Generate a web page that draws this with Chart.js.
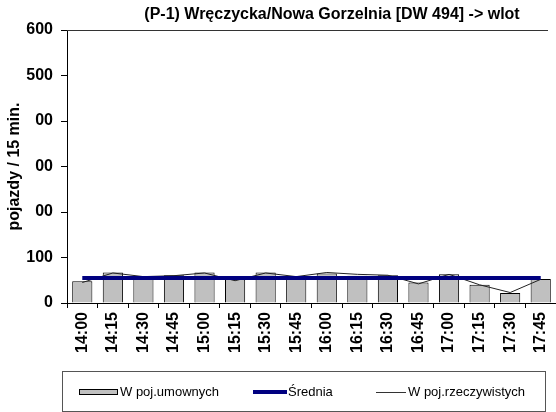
<!DOCTYPE html>
<html>
<head>
<meta charset="utf-8">
<script src="https://cdn.jsdelivr.net/npm/chart.js@4"></script>
<style>
  html, body { margin: 0; padding: 0; background: #fff; }
  #wrap { width: 556px; height: 412px; }
</style>
</head>
<body>
<div id="wrap"><canvas id="myChart" width="556" height="412"></canvas></div>
<script>
var labels = ['14:00', '14:15', '14:30', '14:45', '15:00', '15:15', '15:30', '15:45',
  '16:00', '16:15', '16:30', '16:45', '17:00', '17:15', '17:30', '17:45'];
var umowne = [48, 67, 54, 61, 67, 52, 67, 56, 65, 60, 61, 45, 63, 40, 22, 53];
var rzeczywiste = [45, 66, 58, 60, 66, 49, 66, 58, 67, 63, 61, 42, 63, 40, 23, 52];
var srednia = [55, 55, 55, 55, 55, 55, 55, 55, 55, 55, 55, 55, 55, 55, 55, 55];
var yTickLabels = ['0', '100', '00', '00', '00', '500', '600'];
var seriesNames = ['W poj.umownych', 'Średnia', 'W poj.rzeczywistych'];
var titleText = '(P-1) Wręczycka/Nowa Gorzelnia [DW 494] -> wlot';

var FONT = '"Liberation Sans", Arial, sans-serif';

// title, top frame line and boxed legend like the excel original
var extras = {
  id: 'extras',
  afterDraw: function (chart) {
    var ctx = chart.ctx;
    var a = chart.chartArea;
    ctx.save();
    ctx.strokeStyle = '#333';
    ctx.lineWidth = 1;
    ctx.beginPath();
    ctx.moveTo(a.left, a.top + 0.5);
    ctx.lineTo(548, a.top + 0.5);
    ctx.stroke();

    ctx.fillStyle = '#000';
    ctx.font = 'bold 16px ' + FONT;
    ctx.textAlign = 'center';
    ctx.textBaseline = 'middle';
    ctx.fillText(titleText, 332, 15);

    // legend
    ctx.strokeStyle = '#555';
    ctx.strokeRect(62.5, 371.5, 483, 40);
    var cy = 392;
    ctx.fillStyle = '#C0C0C0';
    ctx.fillRect(79, 389, 39, 6);
    ctx.strokeStyle = '#000';
    ctx.strokeRect(79.5, 389.5, 38, 5);
    ctx.strokeStyle = '#000080';
    ctx.lineWidth = 4;
    ctx.beginPath();
    ctx.moveTo(253, cy);
    ctx.lineTo(287, cy);
    ctx.stroke();
    ctx.strokeStyle = '#333';
    ctx.lineWidth = 1;
    ctx.beginPath();
    ctx.moveTo(376, cy + 0.5);
    ctx.lineTo(406, cy + 0.5);
    ctx.stroke();
    ctx.fillStyle = '#000';
    ctx.font = '13px ' + FONT;
    ctx.textAlign = 'left';
    ctx.fillText(seriesNames[0], 120, cy);
    ctx.fillText(seriesNames[1], 288, cy);
    ctx.fillText(seriesNames[2], 408, cy);
    ctx.restore();
  }
};

new Chart('myChart', {
  type: 'bar',
  data: {
    labels: labels,
    datasets: [
      {
        label: seriesNames[1],
        type: 'line',
        data: srednia,
        borderColor: '#000080',
        borderWidth: 4,
        pointRadius: 0,
        tension: 0,
        order: 1,
      },
      {
        label: seriesNames[2],
        type: 'line',
        data: rzeczywiste,
        borderColor: '#222',
        borderWidth: 1,
        pointRadius: 0,
        tension: 0,
        order: 2,
      },
      {
        label: seriesNames[0],
        data: umowne,
        backgroundColor: '#C0C0C0',
        borderColor: '#000',
        borderWidth: 1,
        barPercentage: 0.66,
        categoryPercentage: 1,
        order: 3,
      },
    ],
  },
  plugins: [extras],
  options: {
    responsive: false,
    animation: false,
    layout: {
      padding: { top: 30, right: 0, left: 0, bottom: 0 },
    },
    plugins: {
      legend: { display: false },
      title: { display: false },
      tooltip: { enabled: false },
    },
    scales: {
      x: {
        offset: true,
        grid: {
          offset: true,
          drawOnChartArea: false,
          tickLength: 5,
          color: '#000',
        },
        border: { color: '#000', width: 1 },
        ticks: {
          color: '#000',
          maxRotation: 90,
          minRotation: 90,
          padding: 4,
          font: { family: FONT, size: 16, weight: 'bold' },
        },
        afterFit: function (s) {
          s.height = 109;
          s.paddingLeft = 0;
          s.paddingRight = 0;
        },
      },
      y: {
        min: 0,
        max: 600,
        grid: {
          drawOnChartArea: false,
          tickLength: 6,
          color: '#000',
        },
        border: { color: '#000', width: 1 },
        ticks: {
          stepSize: 100,
          color: '#000',
          padding: 8,
          font: { family: FONT, size: 16, weight: 'bold' },
          callback: function (value) {
            return yTickLabels[value / 100];
          },
        },
        title: {
          display: true,
          text: 'pojazdy / 15 min.',
          color: '#000',
          padding: { top: 5, bottom: 0 },
          font: { family: FONT, size: 16, weight: 'bold' },
        },
        afterFit: function (s) {
          s.width = 67;
        },
      },
    },
  },
});
</script>
</body>
</html>
